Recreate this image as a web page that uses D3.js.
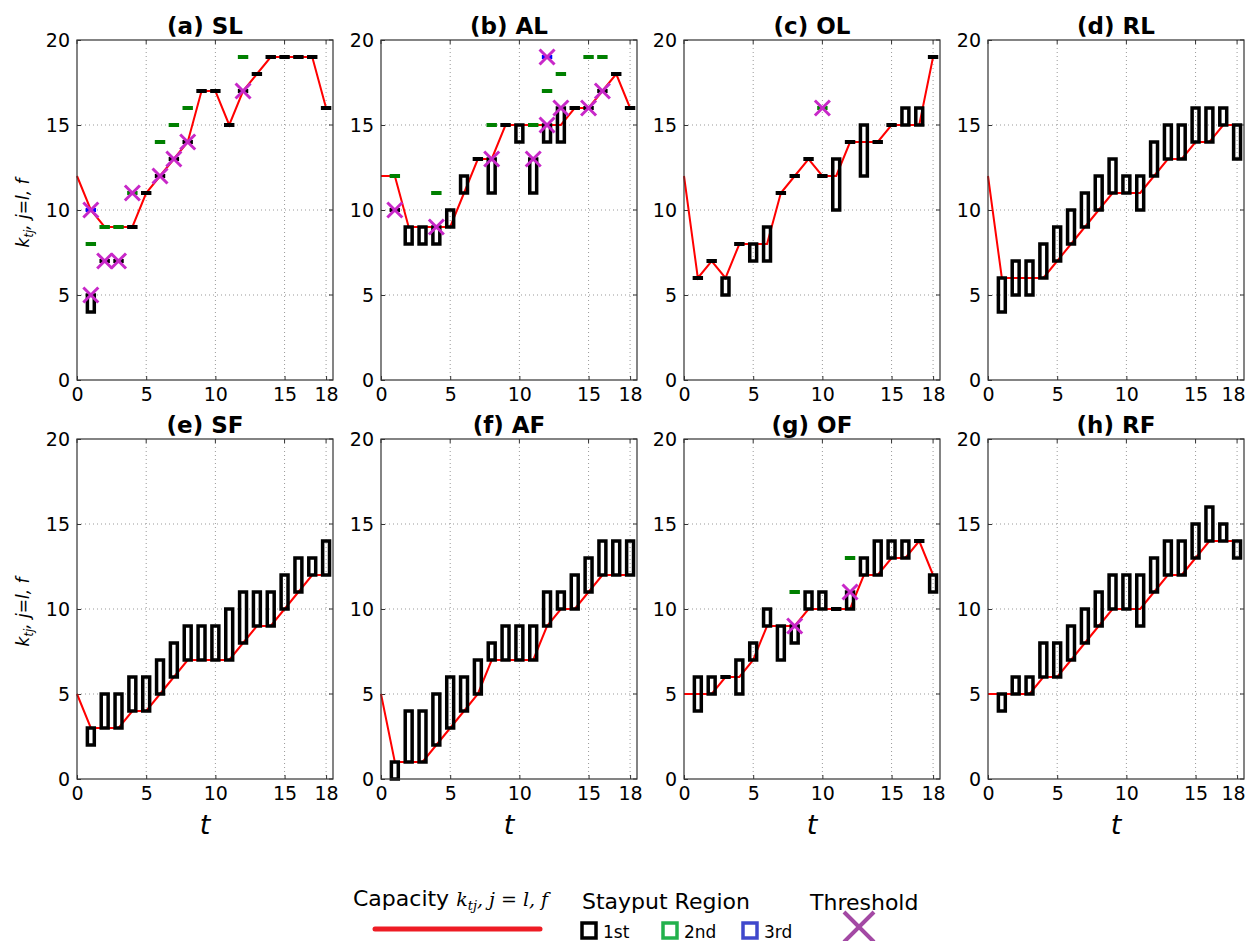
<!DOCTYPE html>
<html>
<head>
<meta charset="utf-8">
<script src="https://cdn.jsdelivr.net/npm/d3@7"></script>
<style>
  body { margin: 0; background: #fff; }
  text { font-family: "DejaVu Sans", sans-serif; }
</style>
</head>
<body>
<div id="chart"></div>
<script>
// panel titles and ticks
var titles = ["(a) SL", "(b) AL", "(c) OL", "(d) RL", "(e) SF", "(f) AF", "(g) OF", "(h) RF"];
var xTicks = [0, 5, 10, 15, 18];
var yTicks = [0, 5, 10, 15, 20];

// capacity k_t for t = 0..18
var capSL = [12,10,9,9,9,11,12,13,14,17,17,15,17,18,19,19,19,19,16];
var capAL = [12,12,9,9,9,9,11,13,13,15,15,15,15,15,16,16,17,18,16];
var capOL = [12,6,7,6,8,8,8,11,12,13,12,12,14,14,14,15,15,15,19];
var capRL = [12,6,6,6,6,7,8,9,10,11,11,11,12,13,13,14,14,15,15];
var capSF = [5,3,3,3,4,4,5,6,7,7,7,7,8,9,9,10,11,12,12];
var capAF = [5,1,1,1,2,3,4,5,7,7,7,7,9,10,10,11,12,12,12];
var capOF = [5,5,5,6,6,7,9,9,9,10,10,10,10,12,12,13,13,14,12];
var capRF = [5,5,5,5,6,6,7,8,9,10,10,10,11,12,12,13,14,14,14];

// 1st stayput region, low / high, for t = 1..18
var loSL = [4,7,7,9,11,12,13,14,17,17,15,17,18,19,19,19,19,16];
var hiSL = [5,7,7,9,11,12,13,14,17,17,15,17,18,19,19,19,19,16];
var loAL = [10,8,8,8,9,11,13,11,15,14,11,14,14,16,16,17,18,16];
var hiAL = [10,9,9,9,10,12,13,13,15,15,13,15,16,16,16,17,18,16];
var loOL = [6,7,5,8,7,7,11,12,13,12,10,14,12,14,15,15,15,19];
var hiOL = [6,7,6,8,8,9,11,12,13,12,13,14,15,14,15,16,16,19];
var loRL = [4,5,5,6,7,8,9,10,11,11,10,12,13,13,14,14,15,13];
var hiRL = [6,7,7,8,9,10,11,12,13,12,12,14,15,15,16,16,16,15];
var loSF = [2,3,3,4,4,5,6,7,7,7,7,8,9,9,10,11,12,12];
var hiSF = [3,5,5,6,6,7,8,9,9,9,10,11,11,11,12,13,13,14];
var loAF = [0,1,1,2,3,4,5,7,7,7,7,9,10,10,11,12,12,12];
var hiAF = [1,4,4,5,6,6,7,8,9,9,9,11,11,12,13,14,14,14];
var loOF = [4,5,6,5,7,9,7,8,10,10,10,10,12,12,13,13,14,11];
var hiOF = [6,6,6,7,8,10,9,9,11,11,10,11,13,14,14,14,14,12];
var loRF = [4,5,5,6,6,7,8,9,10,10,9,11,12,12,13,14,14,13];
var hiRF = [5,6,6,8,8,9,10,11,12,12,12,13,14,14,15,16,15,14];

// 2nd and 3rd stayput regions and thresholds as [t, k]
var secondSL = [[1,8],[2,9],[3,9],[4,11],[6,14],[7,15],[8,16],[12,19]];
var thirdSL = [[1,10]];
var threshSL = [[1,5],[1,10],[2,7],[3,7],[4,11],[6,12],[7,13],[8,14],[12,17]];
var secondAL = [[1,12],[4,11],[8,15],[11,15],[12,17],[13,18],[15,19],[16,19]];
var thirdAL = [[12,19]];
var threshAL = [[1,10],[4,9],[8,13],[11,13],[12,15],[12,19],[13,16],[15,16],[16,17]];
var secondOL = [[10,16]];
var threshOL = [[10,16]];
var secondOF = [[8,11],[12,13]];
var threshOF = [[8,9],[12,11]];

var panels = [
  {cap: capSL, lo: loSL, hi: hiSL, second: secondSL, third: thirdSL, thresh: threshSL},
  {cap: capAL, lo: loAL, hi: hiAL, second: secondAL, third: thirdAL, thresh: threshAL},
  {cap: capOL, lo: loOL, hi: hiOL, second: secondOL, third: [], thresh: threshOL},
  {cap: capRL, lo: loRL, hi: hiRL, second: [], third: [], thresh: []},
  {cap: capSF, lo: loSF, hi: hiSF, second: [], third: [], thresh: []},
  {cap: capAF, lo: loAF, hi: hiAF, second: [], third: [], thresh: []},
  {cap: capOF, lo: loOF, hi: hiOF, second: secondOF, third: [], thresh: threshOF},
  {cap: capRF, lo: loRF, hi: hiRF, second: [], third: [], thresh: []}
];

var svgWidth = 1247;
var svgHeight = 941;
var pw = 256, ph = 340;
var lefts = [77, 381, 684, 988];
var tops = [40, 439];

var svg = d3.select("#chart").append("svg")
  .attr("width", svgWidth)
  .attr("height", svgHeight);

var x = d3.scaleLinear().domain([0, 18.5]).range([0, pw]);
var y = d3.scaleLinear().domain([0, 20]).range([ph, 0]);
var halfW = x(0.25) - x(0);
var sw = 3.5;

// draws a stayput box, or a flat dash when lo == hi
function drawBox(g, t, lo, hi, color) {
  var x0 = x(t) - halfW, x1 = x(t) + halfW;
  if (lo === hi) {
    g.append("line")
      .attr("x1", x0 - sw / 2).attr("x2", x1 + sw / 2)
      .attr("y1", y(lo)).attr("y2", y(lo))
      .attr("stroke", color).attr("stroke-width", 4);
  } else {
    g.append("rect")
      .attr("x", x0).attr("width", x1 - x0)
      .attr("y", y(hi)).attr("height", y(lo) - y(hi))
      .attr("fill", "none").attr("stroke", color).attr("stroke-width", sw);
  }
}

function drawCross(g, cx, cy, r, color, w) {
  g.append("path")
    .attr("d", `M${cx - r},${cy - r}L${cx + r},${cy + r}M${cx - r},${cy + r}L${cx + r},${cy - r}`)
    .attr("stroke", color).attr("stroke-width", w).attr("fill", "none");
}

panels.forEach(function(p, i) {
  var row = Math.floor(i / 4), col = i % 4;
  var g = svg.append("g").attr("transform", `translate(${lefts[col]}, ${tops[row]})`);

  // grid
  g.selectAll(".gx").data(xTicks.slice(1)).enter().append("line")
    .attr("x1", d => x(d)).attr("x2", d => x(d)).attr("y1", 0).attr("y2", ph)
    .attr("stroke", "#999").attr("stroke-width", 1).attr("stroke-dasharray", "1,3");
  g.selectAll(".gy").data(yTicks.slice(1, -1)).enter().append("line")
    .attr("y1", d => y(d)).attr("y2", d => y(d)).attr("x1", 0).attr("x2", pw)
    .attr("stroke", "#999").attr("stroke-width", 1).attr("stroke-dasharray", "1,3");

  // axes (ticks inside, like the classic style)
  var bottom = d3.axisBottom(x).tickValues(xTicks).tickSizeInner(-4).tickSizeOuter(0).tickPadding(8);
  var left = d3.axisLeft(y).tickValues(yTicks).tickSizeInner(-4).tickSizeOuter(0).tickPadding(7);
  var gb = g.append("g").attr("transform", `translate(0, ${ph})`).call(bottom);
  var gl = g.append("g").call(left);
  [gb, gl].forEach(function(a) {
    a.select(".domain").remove();
    a.selectAll("text").attr("font-size", 19).attr("font-family", "DejaVu Sans").attr("fill", "#000");
    a.selectAll("line").attr("stroke", "#333");
  });
  // keep the last "18" inside the page on the right column
  if (col === 3) {
    gb.selectAll("text").filter(d => d === 18).attr("dx", -4);
  }
  g.selectAll(".tt").data(xTicks).enter().append("line")
    .attr("x1", d => x(d)).attr("x2", d => x(d)).attr("y1", 0).attr("y2", 4).attr("stroke", "#333");
  g.selectAll(".tr").data(yTicks).enter().append("line")
    .attr("x1", pw).attr("x2", pw - 4).attr("y1", d => y(d)).attr("y2", d => y(d)).attr("stroke", "#333");

  // capacity line
  var line = d3.line().x((d, t) => x(t)).y(d => y(d));
  g.append("path").datum(p.cap)
    .attr("d", line).attr("fill", "none").attr("stroke", "#ff0000").attr("stroke-width", 2);

  // 1st stayput region
  p.lo.forEach(function(lo, k) { drawBox(g, k + 1, lo, p.hi[k], "#000"); });
  // 2nd and 3rd
  p.second.forEach(function(d) { drawBox(g, d[0], d[1], d[1], "#008000"); });
  p.third.forEach(function(d) { drawBox(g, d[0], d[1], d[1], "#0000ff"); });
  // thresholds
  p.thresh.forEach(function(d) { drawCross(g, x(d[0]), y(d[1]), 7.5, "#c828c8", 3); });

  // frame
  g.append("rect").attr("width", pw).attr("height", ph)
    .attr("fill", "none").attr("stroke", "#333").attr("stroke-width", 1.2);

  // title
  g.append("text").attr("x", pw / 2).attr("y", -6)
    .attr("text-anchor", "middle").attr("font-size", 23).attr("font-weight", "bold")
    .text(titles[i]);

  // x label on bottom row
  if (row === 1) {
    g.append("text").attr("x", pw / 2).attr("y", ph + 55)
      .attr("text-anchor", "middle")
      .attr("font-family", "DejaVu Serif").attr("font-style", "italic").attr("font-size", 27)
      .text("t");
  }
  // y label on first column
  if (col === 0) {
    var yl = g.append("text")
      .attr("transform", `translate(-48, ${ph / 2 + 3}) rotate(-90)`)
      .attr("text-anchor", "middle").attr("font-size", 17).attr("font-style", "italic");
    yl.append("tspan").text("k");
    yl.append("tspan").attr("font-size", 12).attr("dy", 4).text("tj");
    yl.append("tspan").attr("dy", -4).text(", j=l, f");
  }
});

// legend
var lg = svg.append("g");
var cap = lg.append("text").attr("x", 353).attr("y", 906).attr("font-size", 22);
cap.append("tspan").text("Capacity ");
cap.append("tspan").attr("font-family", "DejaVu Serif").attr("font-style", "italic").attr("font-size", 19).text("k");
cap.append("tspan").attr("font-family", "DejaVu Serif").attr("font-style", "italic").attr("font-size", 13).attr("dy", 4).text("tj");
cap.append("tspan").attr("font-family", "DejaVu Serif").attr("font-style", "italic").attr("font-size", 19).attr("dy", -4).text(", j = l, f");
lg.append("line").attr("x1", 375).attr("x2", 540).attr("y1", 929).attr("y2", 929)
  .attr("stroke", "#ee1c24").attr("stroke-width", 5).attr("stroke-linecap", "round");

lg.append("text").attr("x", 582).attr("y", 909).attr("font-size", 22).text("Stayput Region");
var regionColors = ["#000000", "#22b14c", "#3f48cc"];
var regionNames = ["1st", "2nd", "3rd"];
var regionX = [582, 663, 743];
regionNames.forEach(function(n, k) {
  lg.append("rect").attr("x", regionX[k]).attr("y", 923).attr("width", 14).attr("height", 15)
    .attr("fill", "none").attr("stroke", regionColors[k]).attr("stroke-width", 3.5);
  lg.append("text").attr("x", regionX[k] + 21).attr("y", 938).attr("font-size", 17).text(n);
});

lg.append("text").attr("x", 810).attr("y", 910).attr("font-size", 22).text("Threshold");
drawCross(lg, 859, 927, 15, "#a349a4", 4);
</script>
</body>
</html>
